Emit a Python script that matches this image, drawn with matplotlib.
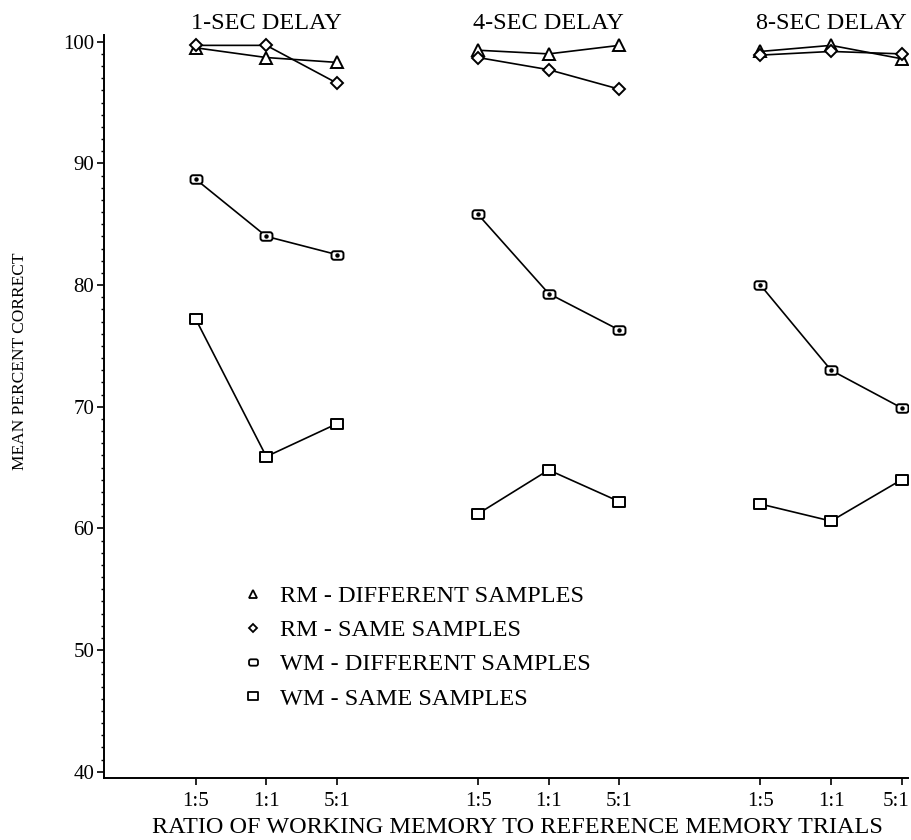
import matplotlib
matplotlib.use("Agg")
import matplotlib.pyplot as plt
from matplotlib.path import Path
from matplotlib.lines import Line2D
from matplotlib.ticker import MultipleLocator
import matplotlib.transforms as mtransforms

plt.rcParams['font.family'] = ['Liberation Serif', 'DejaVu Serif']

# ---- data ----
delays = ['1-SEC DELAY', '4-SEC DELAY', '8-SEC DELAY']
ratios = ['1:5', '1:1', '5:1']
x_pos = [0, 1, 2, 4, 5, 6, 8, 9, 10]

rm_diff = [99.5, 98.7, 98.3, 99.3, 99.0, 99.7, 99.2, 99.7, 98.6]
rm_same = [99.7, 99.7, 96.6, 98.7, 97.7, 96.1, 98.9, 99.2, 99.0]
wm_diff = [88.7, 84.0, 82.5, 85.8, 79.3, 76.3, 80.0, 73.0, 69.9]
wm_same = [77.2, 65.9, 68.6, 61.2, 64.8, 62.2, 62.0, 60.6, 64.0]

labels = ['RM - DIFFERENT SAMPLES', 'RM - SAME SAMPLES',
          'WM - DIFFERENT SAMPLES', 'WM - SAME SAMPLES']

# ---- custom markers ----
def rounded_rect(w=1.4, h=1.0, r=0.3):
    a, b = w / 2, h / 2
    verts = [(-a + r, -b), (a - r, -b), (a, -b), (a, -b + r), (a, b - r),
             (a, b), (a - r, b), (-a + r, b), (-a, b), (-a, b - r),
             (-a, -b + r), (-a, -b), (-a + r, -b), (-a + r, -b)]
    codes = [Path.MOVETO, Path.LINETO, Path.CURVE3, Path.CURVE3, Path.LINETO,
             Path.CURVE3, Path.CURVE3, Path.LINETO, Path.CURVE3, Path.CURVE3,
             Path.LINETO, Path.CURVE3, Path.CURVE3, Path.CLOSEPOLY]
    return Path(verts, codes)

def rect(w=1.2, h=1.0):
    a, b = w / 2, h / 2
    return Path([(-a, -b), (a, -b), (a, b), (-a, b), (-a, -b)],
                [Path.MOVETO, Path.LINETO, Path.LINETO, Path.LINETO, Path.CLOSEPOLY])

rr_marker = rounded_rect()
sq_marker = rect()

styles = [
    (rm_diff, '^', 8.5),
    (rm_same, 'D', 6.0),
    (wm_diff, rr_marker, 8.6),
    (wm_same, sq_marker, 8.8),
]

fig = plt.figure(figsize=(9.12, 8.4), dpi=100)
ax = fig.add_axes([0.114, 0.0738, 0.8816, 0.8845])

for vals, mk, ms in styles:
    for g in range(3):
        xs = x_pos[g * 3:(g + 1) * 3]
        ys = vals[g * 3:(g + 1) * 3]
        ax.plot(xs, ys, color='black', lw=1.2, marker=mk, ms=ms,
                mfc='white', mec='black', mew=1.4, zorder=3)
        if mk is rr_marker:
            ax.plot(xs, ys, ls='none', marker='o', ms=2.2, color='black', zorder=4)

ax.set_xlim(-1.30, 10.09)
ax.set_ylim(39.48, 100.55)

ax.set_xticks(x_pos)
ax.set_xticklabels(ratios * 3, fontsize=15)
ax.set_yticks([40, 50, 60, 70, 80, 90, 100])
ax.yaxis.set_minor_locator(MultipleLocator(1))
ax.tick_params(axis='y', which='major', labelsize=15, length=5, width=1.2, pad=2)
ax.tick_params(axis='y', which='minor', length=2.5, width=1.0)
ax.tick_params(axis='x', which='major', length=5, width=1.2, pad=5)

# last ratio label sits a little left of its tick, as in the original
last = ax.get_xticklabels()[-1]
last.set_transform(last.get_transform() +
                   mtransforms.ScaledTranslation(-6 / 100, 0, fig.dpi_scale_trans))

for side in ['top', 'right']:
    ax.spines[side].set_visible(False)
for side in ['left', 'bottom']:
    ax.spines[side].set_linewidth(1.4)

ax.set_xlabel('RATIO OF WORKING MEMORY TO REFERENCE MEMORY TRIALS', fontsize=17.5)
ax.xaxis.set_label_coords(0.514, -0.053)
ax.set_ylabel('MEAN PERCENT CORRECT', fontsize=12.5)
ax.yaxis.set_label_coords(-0.094, 0.561)

# group titles above each delay block
trans = mtransforms.blended_transform_factory(ax.transData, fig.transFigure)
for g, name in enumerate(delays):
    ax.text(x_pos[g * 3 + 1], 0.966, name, transform=trans, ha='center',
            va='baseline', fontsize=17.5)

# legend
handles = [Line2D([], [], ls='none', marker=mk, ms=ms * 0.75, mfc='white',
                  mec='black', mew=1.3) for _, mk, ms in styles]
ax.legend(handles, labels, loc='upper left', bbox_to_anchor=(0.155, 0.276),
          frameon=False, fontsize=17.5, handlelength=1.0, handletextpad=0.6,
          labelspacing=0.5, borderpad=0)

fig.savefig('out.png', dpi=100)
